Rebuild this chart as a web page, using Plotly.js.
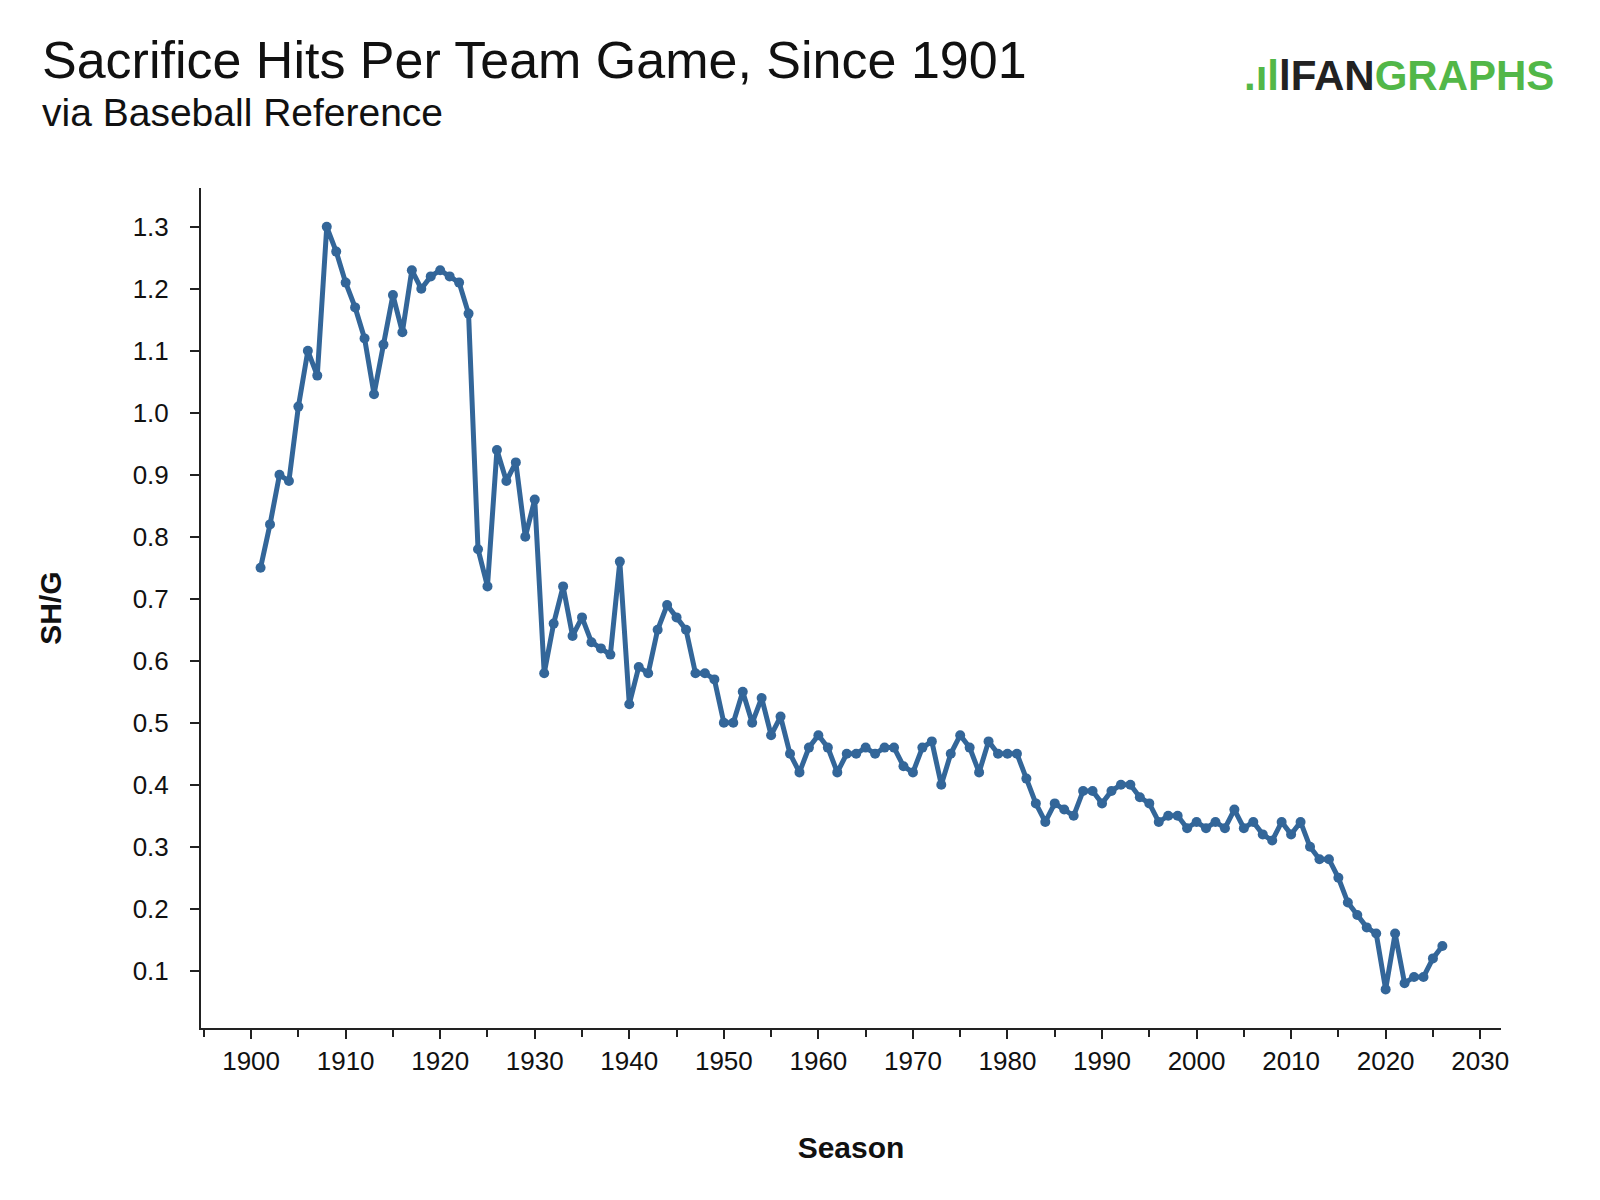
<!DOCTYPE html>
<html>
<head>
<meta charset="utf-8">
<script src="https://cdn.plot.ly/plotly-3.0.1.min.js"></script>
<style>body{margin:0;background:#fff}#chart{width:1600px;height:1200px}</style>
</head>
<body>
<div id="chart"></div>
<script>
const firstSeason = 1901
const shPerGame = [
  0.75, 0.82, 0.90, 0.89, 1.01, 1.10, 1.06, 1.30, 1.26, 1.21,
  1.17, 1.12, 1.03, 1.11, 1.19, 1.13, 1.23, 1.20, 1.22, 1.23,
  1.22, 1.21, 1.16, 0.78, 0.72, 0.94, 0.89, 0.92, 0.80, 0.86,
  0.58, 0.66, 0.72, 0.64, 0.67, 0.63, 0.62, 0.61, 0.76, 0.53,
  0.59, 0.58, 0.65, 0.69, 0.67, 0.65, 0.58, 0.58, 0.57, 0.50,
  0.50, 0.55, 0.50, 0.54, 0.48, 0.51, 0.45, 0.42, 0.46, 0.48,
  0.46, 0.42, 0.45, 0.45, 0.46, 0.45, 0.46, 0.46, 0.43, 0.42,
  0.46, 0.47, 0.40, 0.45, 0.48, 0.46, 0.42, 0.47, 0.45, 0.45,
  0.45, 0.41, 0.37, 0.34, 0.37, 0.36, 0.35, 0.39, 0.39, 0.37,
  0.39, 0.40, 0.40, 0.38, 0.37, 0.34, 0.35, 0.35, 0.33, 0.34,
  0.33, 0.34, 0.33, 0.36, 0.33, 0.34, 0.32, 0.31, 0.34, 0.32,
  0.34, 0.30, 0.28, 0.28, 0.25, 0.21, 0.19, 0.17, 0.16, 0.07,
  0.16, 0.08, 0.09, 0.09, 0.12, 0.14
]
const seasons = shPerGame.map((v, i) => firstSeason + i)

const Plotly = window.Plotly
const font = 'Liberation Sans, Arial, sans-serif'
const M = { l: 201, r: 99, t: 188, b: 172 }

let trace = {
  x: seasons,
  y: shPerGame,
  type: 'scatter',
  mode: 'lines+markers',
  line: { color: '#336699', width: 5 },
  marker: { color: '#336699', size: 10 },
  hoverinfo: 'x+y',
}

let layout = {
  width: 1600,
  height: 1200,
  margin: M,
  paper_bgcolor: '#fff',
  plot_bgcolor: '#fff',
  font: { family: font, size: 26, color: '#111' },
  showlegend: false,
  xaxis: {
    range: [1894.7, 2032.2],
    tick0: 1900, dtick: 10,
    ticks: 'outside', ticklen: 9, tickwidth: 2, tickcolor: '#222',
    minor: { dtick: 5, ticks: 'outside', ticklen: 7, tickwidth: 1.5, tickcolor: '#222' },
    showline: true, linecolor: '#222', linewidth: 2,
    showgrid: false, zeroline: false,
    title: { text: '<b>Season</b>', font: { size: 30, color: '#111' }, standoff: 62 },
  },
  yaxis: {
    range: [0.0077, 1.3626],
    tick0: 0.1, dtick: 0.1, tickformat: '.1f',
    ticks: 'outside', ticklen: 9, tickwidth: 2, tickcolor: '#222',
    ticklabelstandoff: 16,
    showline: true, linecolor: '#222', linewidth: 2,
    showgrid: false, zeroline: false,
    title: { text: '<b>SH/G</b>', font: { size: 30, color: '#111' }, standoff: 62 },
  },
  annotations: [
    { text: 'Sacrifice Hits Per Team Game, Since 1901', x: 40, y: 60,
      xanchor: 'left', yanchor: 'middle', showarrow: false, font: { size: 52, color: '#111' } },
    { text: 'via Baseball Reference', x: 40, y: 112, xanchor: 'left', yanchor: 'middle',
      showarrow: false, font: { size: 39, color: '#111' } },
    { text: '<b><span style="color:#52b748">.ıl</span><span style="color:#222">l</span><span style="color:#222">FAN</span><span style="color:#52b748">GRAPHS</span></b>',
      x: 1556, y: 75, xanchor: 'right', yanchor: 'middle', showarrow: false,
      font: { size: 42 } },
  ],
}

// header annotations are placed in pixel space
layout.annotations.forEach(a => {
  a.xref = 'paper'; a.yref = 'paper'
  a.x = (a.x - M.l) / (1600 - M.l - M.r)
  a.y = (1200 - M.b - a.y) / (1200 - M.t - M.b)
})

Plotly.newPlot('chart', [trace], layout, { responsive: false, displayModeBar: false })
</script>
</body>
</html>
